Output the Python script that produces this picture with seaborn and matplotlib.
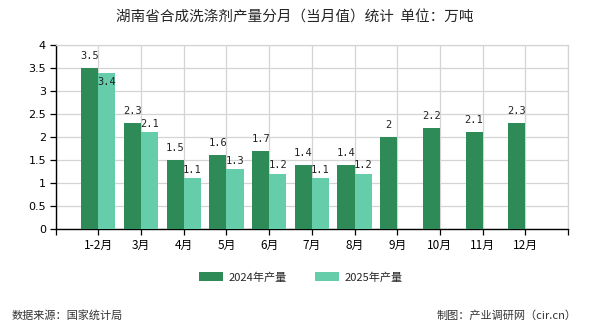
import matplotlib
matplotlib.use("Agg")
import matplotlib.pyplot as plt
from matplotlib.patches import Patch
import seaborn as sns
import pandas as pd
import numpy as np

months = ["1-2月", "3月", "4月", "5月", "6月", "7月", "8月", "9月", "10月", "11月", "12月"]
prod_2024 = [3.5, 2.3, 1.5, 1.6, 1.7, 1.4, 1.4, 2, 2.2, 2.1, 2.3]
prod_2025 = [3.4, 2.1, 1.1, 1.3, 1.2, 1.1, 1.2, None, None, None, None]
series_names = ["2024年产量", "2025年产量"]
colors = ["#2e8b57", "#66cdaa"]

sns.set_theme(style="white")
cjk = ["Noto Sans CJK SC", "DejaVu Sans"]
plt.rcParams["font.family"] = cjk

df = pd.DataFrame({
    "month": months * 2,
    "value": prod_2024 + prod_2025,
    "series": [series_names[0]] * len(months) + [series_names[1]] * len(months),
})

fig = plt.figure(figsize=(5.9, 3.3), dpi=100)
ax = fig.add_axes([0.0944, 0.306, 0.8683, 0.558])

sns.barplot(data=df, x="month", y="value", hue="series", order=months,
            hue_order=series_names, palette=colors, width=0.8,
            saturation=1, errorbar=None, legend=False, ax=ax, zorder=3,
            linewidth=0, edgecolor="none")

ax.set_xlim(-1, len(months))
ax.set_ylim(0, 4)
yt = np.arange(0, 4.01, 0.5)
ax.set_yticks(yt)
ax.set_yticklabels([f"{v:g}" for v in yt], fontsize=8, family="DejaVu Sans")
ax.set_xticks(range(-1, len(months) + 1))
ax.set_xticklabels([""] + months + [""], fontsize=8.5)
ax.set_xlabel("")
ax.set_ylabel("")

ax.grid(True, color="#d4d4d4", linewidth=0.9, zorder=0)
ax.set_axisbelow(True)
for side in ("top", "right"):
    ax.spines[side].set_color("#d4d4d4")
    ax.spines[side].set_linewidth(0.9)
for side in ("left", "bottom"):
    ax.spines[side].set_color("black")
    ax.spines[side].set_linewidth(1.0)
ax.tick_params(axis="both", direction="out", length=4, width=0.9,
               color="black", labelcolor="black", pad=3, bottom=True, left=True)

# value labels above each bar
label_font = dict(fontsize=7.5, family="DejaVu Sans Mono", color="#222222")
for i, (a, b) in enumerate(zip(prod_2024, prod_2025)):
    ax.annotate(f"{a:g}", (i - 0.2, a), xytext=(0, 5), textcoords="offset points",
                ha="center", va="bottom", **label_font)
    if b is not None:
        crowded = (a - b) < 0.15
        dy = -3 if crowded else 2.5
        va = "top" if crowded else "bottom"
        ax.annotate(f"{b:g}", (i + 0.2, b), xytext=(0, dy), textcoords="offset points",
                    ha="center", va=va, **label_font)

fig.text(0.5, 0.947, "湖南省合成洗涤剂产量分月（当月值）统计  单位：万吨",
         ha="center", va="center", fontsize=10.5, family=cjk)

# legend
handles = [Patch(facecolor=c, edgecolor="none") for c in colors]
fig.legend(handles, series_names, loc="center", bbox_to_anchor=(0.51, 0.16),
           ncol=2, frameon=False, fontsize=8, handlelength=2.2, handleheight=0.9,
           columnspacing=2.5, handletextpad=0.5)

fig.text(0.02, 0.045, "数据来源：国家统计局", ha="left", va="center",
         fontsize=8, color="#333333", family=cjk)
fig.text(0.977, 0.045, "制图：产业调研网（cir.cn）", ha="right", va="center",
         fontsize=8, color="#333333", family=cjk)

fig.savefig("out.png", dpi=100)
